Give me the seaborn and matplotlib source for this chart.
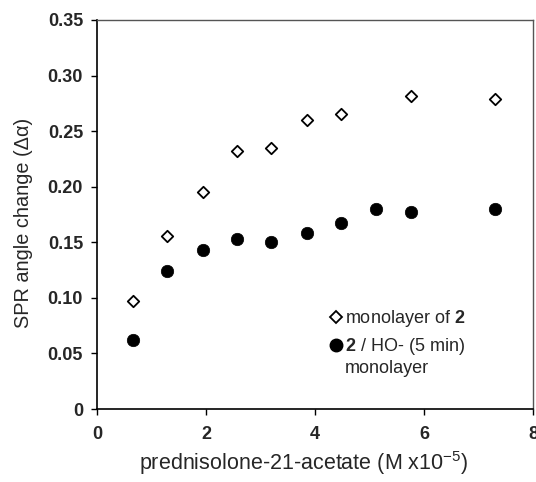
import matplotlib
matplotlib.use("Agg")
import matplotlib.pyplot as plt
import seaborn as sns
import pandas as pd
from matplotlib.ticker import FuncFormatter
from matplotlib.lines import Line2D

# Data
conc_mono = [0.66, 1.28, 1.94, 2.57, 3.20, 3.85, 4.48, 5.76, 7.31]
spr_mono = [0.0975, 0.156, 0.195, 0.2325, 0.235, 0.260, 0.265, 0.282, 0.279]
conc_ho = [0.66, 1.28, 1.94, 2.57, 3.20, 3.85, 4.48, 5.12, 5.76, 7.31]
spr_ho = [0.0625, 0.1245, 0.143, 0.153, 0.1505, 0.158, 0.1675, 0.180, 0.1775, 0.180]
label_mono = r"monolayer of $\mathbf{2}$"
label_ho_line1 = r"$\mathbf{2}$ / HO- (5 min)"
label_ho_line2 = "monolayer"
xticks = [0, 2, 4, 6, 8]
yticks = [0, 0.05, 0.10, 0.15, 0.20, 0.25, 0.30, 0.35]

sns.set_style("ticks")
plt.rcParams["font.family"] = ["Liberation Sans", "DejaVu Sans"]
plt.rcParams["mathtext.fontset"] = "custom"
plt.rcParams["mathtext.rm"] = "Liberation Sans"
plt.rcParams["mathtext.it"] = "Liberation Sans:italic"
plt.rcParams["mathtext.bf"] = "Liberation Sans:bold"

df_mono = pd.DataFrame({"x": conc_mono, "y": spr_mono})
df_ho = pd.DataFrame({"x": conc_ho, "y": spr_ho})

fig = plt.figure(figsize=(5.36, 4.82), dpi=100)
ax = fig.add_axes([97 / 536, 1 - 409 / 482, (533 - 97) / 536, (409 - 20) / 482])

sns.scatterplot(data=df_mono, x="x", y="y", ax=ax, marker="D", s=34,
                facecolor="white", edgecolor="black", linewidth=1.3,
                legend=False, zorder=3)
sns.scatterplot(data=df_ho, x="x", y="y", ax=ax, marker="o", s=80,
                color="black", edgecolor="black", linewidth=0.5,
                legend=False, zorder=3)

ax.set_xlim(0, 8)
ax.set_ylim(0, 0.35)
ax.set_xticks(xticks)
ax.set_yticks(yticks)
ax.yaxis.set_major_formatter(FuncFormatter(lambda v, p: "0" if abs(v) < 1e-9 else f"{v:.2f}"))
ax.xaxis.set_major_formatter(FuncFormatter(lambda v, p: f"{int(round(v))}"))
for lab in ax.get_xticklabels() + ax.get_yticklabels():
    lab.set_fontweight("bold")
ax.tick_params(axis="y", labelsize=13, length=4, width=1, color="black", pad=6)
ax.tick_params(axis="x", labelsize=13, length=4, width=1, color="black", pad=8)

ax.set_xlabel("prednisolone-21-acetate (M x10$^{-5}$)", fontsize=15.5)
ax.set_ylabel("SPR angle change (\u0394\u03b1)", fontsize=14.3)
ax.xaxis.set_label_coords(0.475, -0.102)
ax.yaxis.set_label_coords(-0.147, 0.478)

for side in ["left", "bottom"]:
    ax.spines[side].set_color("black")
    ax.spines[side].set_linewidth(1.2)
for side in ["top", "right"]:
    ax.spines[side].set_color("#555555")
    ax.spines[side].set_linewidth(1.0)

h_mono = Line2D([], [], linestyle="none", marker="D", markersize=5.8,
                markerfacecolor="white", markeredgecolor="black", markeredgewidth=1.3)
h_ho = Line2D([], [], linestyle="none", marker="o", markersize=9,
              markerfacecolor="black", markeredgecolor="black")
leg = ax.legend([h_mono, h_ho], [label_mono, label_ho_line1],
                loc="upper left", bbox_to_anchor=(0.51, 0.277), frameon=False,
                fontsize=13, handletextpad=0.0, labelspacing=0.38,
                borderaxespad=0, handlelength=1.0)

fig.canvas.draw()
t2 = leg.get_texts()[1]
bb = t2.get_window_extent()
x0, y0 = ax.transAxes.inverted().transform((bb.x0, bb.y0 - 20))
ax.text(x0, y0, label_ho_line2, transform=ax.transAxes, fontsize=13,
        ha="left", va="bottom")

fig.savefig("out.png", dpi=100)
